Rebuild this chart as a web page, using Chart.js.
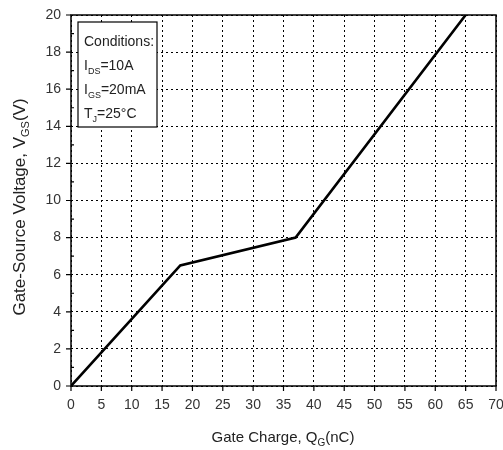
<!DOCTYPE html>
<html><head><meta charset="utf-8">
<script src="https://cdn.jsdelivr.net/npm/chart.js@4/dist/chart.umd.min.js"></script>
<style>html,body{margin:0;padding:0;background:#fff}#wrap{width:503px;height:450px}</style>
</head><body><div id="wrap"><canvas id="c" width="503" height="450"></canvas></div>
<script>
const gateCharge = [0, 18, 37, 65];
const gateVoltage = [0, 6.5, 8, 20];
const xTicks = [0,5,10,15,20,25,30,35,40,45,50,55,60,65,70];
const yTicks = [0,2,4,6,8,10,12,14,16,18,20];
const conditions = [["Conditions:", ""], ["I", "DS", "=10A"], ["I", "GS", "=20mA"], ["T", "J", "=25\u00b0C"]];
const FONT = "'Liberation Sans', Arial, sans-serif";

const decor = {
  id: 'decor',
  afterDraw(chart) {
    const {ctx, chartArea: a, scales: {x, y}} = chart;
    ctx.save();
    ctx.strokeStyle = '#000';
    ctx.lineWidth = 1.5;
    ctx.setLineDash([]);
    ctx.strokeRect(a.left, a.top, a.right - a.left, a.bottom - a.top);
    ctx.lineWidth = 1.2;
    ctx.beginPath();
    yTicks.forEach(v => { const p = y.getPixelForValue(v); ctx.moveTo(a.left - 5, p); ctx.lineTo(a.left, p); });
    xTicks.forEach(v => { const p = x.getPixelForValue(v); ctx.moveTo(p, a.bottom); ctx.lineTo(p, a.bottom + 5); });
    for (let v = 1; v < 20; v += 2) { const p = y.getPixelForValue(v); ctx.moveTo(a.left, p); ctx.lineTo(a.left + 3, p); }
    ctx.stroke();
    // conditions box
    const bx = 78, by = 22, bw = 79, bh = 105;
    ctx.fillStyle = '#fff';
    ctx.fillRect(bx, by, bw, bh);
    ctx.lineWidth = 1.2;
    ctx.strokeRect(bx, by, bw, bh);
    ctx.fillStyle = '#222';
    ctx.textBaseline = 'alphabetic';
    ctx.textAlign = 'left';
    let ty = 46;
    conditions.forEach((row, i) => {
      let tx = 84;
      ctx.font = '14px ' + FONT;
      ctx.fillText(row[0], tx, ty);
      tx += ctx.measureText(row[0]).width;
      if (row.length > 2) {
        ctx.font = '9px ' + FONT;
        ctx.fillText(row[1], tx, ty + 4);
        tx += ctx.measureText(row[1]).width;
        ctx.font = '14px ' + FONT;
        ctx.fillText(row[2], tx, ty);
      }
      ty += 24;
    });
    // axis titles
    const xt1 = 'Gate Charge, Q', xs = 'G', xt2 = '(nC)';
    ctx.font = '15px ' + FONT; const w1 = ctx.measureText(xt1).width, w3 = ctx.measureText(xt2).width;
    ctx.font = '10px ' + FONT; const w2 = ctx.measureText(xs).width;
    let sx = 283 - (w1 + w2 + w3) / 2;
    const sy = 442;
    ctx.font = '15px ' + FONT; ctx.fillText(xt1, sx, sy); sx += w1;
    ctx.font = '10px ' + FONT; ctx.fillText(xs, sx, sy + 4); sx += w2;
    ctx.font = '15px ' + FONT; ctx.fillText(xt2, sx, sy);
    ctx.translate(25, 207);
    ctx.rotate(-Math.PI / 2);
    const yt1 = 'Gate-Source Voltage, V', ys = 'GS', yt2 = '(V)';
    ctx.font = '17px ' + FONT; const v1 = ctx.measureText(yt1).width, v3 = ctx.measureText(yt2).width;
    ctx.font = '11px ' + FONT; const v2 = ctx.measureText(ys).width;
    let rx = -(v1 + v2 + v3) / 2;
    ctx.font = '17px ' + FONT; ctx.fillText(yt1, rx, 0); rx += v1;
    ctx.font = '11px ' + FONT; ctx.fillText(ys, rx, 4); rx += v2;
    ctx.font = '17px ' + FONT; ctx.fillText(yt2, rx, 0);
    ctx.restore();
  }
};

new Chart(document.getElementById('c'), {
  type: 'scatter',
  data: {
    datasets: [{
      data: gateCharge.map((q, i) => ({x: q, y: gateVoltage[i]})),
      showLine: true,
      borderColor: '#000',
      borderWidth: 2.6,
      pointRadius: 0,
      tension: 0
    }]
  },
  options: {
    responsive: false,
    animation: false,
    devicePixelRatio: 1,
    layout: {padding: {top: 15, right: 7, left: 0, bottom: 0}},
    plugins: {legend: {display: false}, tooltip: {enabled: false}},
    scales: {
      x: {
        type: 'linear', min: 0, max: 70,
        afterBuildTicks: s => { s.ticks = xTicks.map(v => ({value: v})); },
        afterFit: s => { s.height = 64; s.paddingLeft = 0; s.paddingRight = 0; },
        grid: {color: '#000', lineWidth: 1, drawTicks: false},
        border: {display: false, dash: [2, 3]},
        ticks: {color: '#333', font: {family: FONT, size: 14}, padding: 11, maxRotation: 0, autoSkip: false}
      },
      y: {
        type: 'linear', min: 0, max: 20,
        afterBuildTicks: s => { s.ticks = yTicks.map(v => ({value: v})); },
        afterFit: s => { s.width = 71; s.paddingTop = 0; s.paddingBottom = 0; },
        grid: {color: '#000', lineWidth: 1, drawTicks: false},
        border: {display: false, dash: [2, 3]},
        ticks: {color: '#333', font: {family: FONT, size: 14}, padding: 10, autoSkip: false}
      }
    }
  },
  plugins: [decor]
});
</script></body></html>
